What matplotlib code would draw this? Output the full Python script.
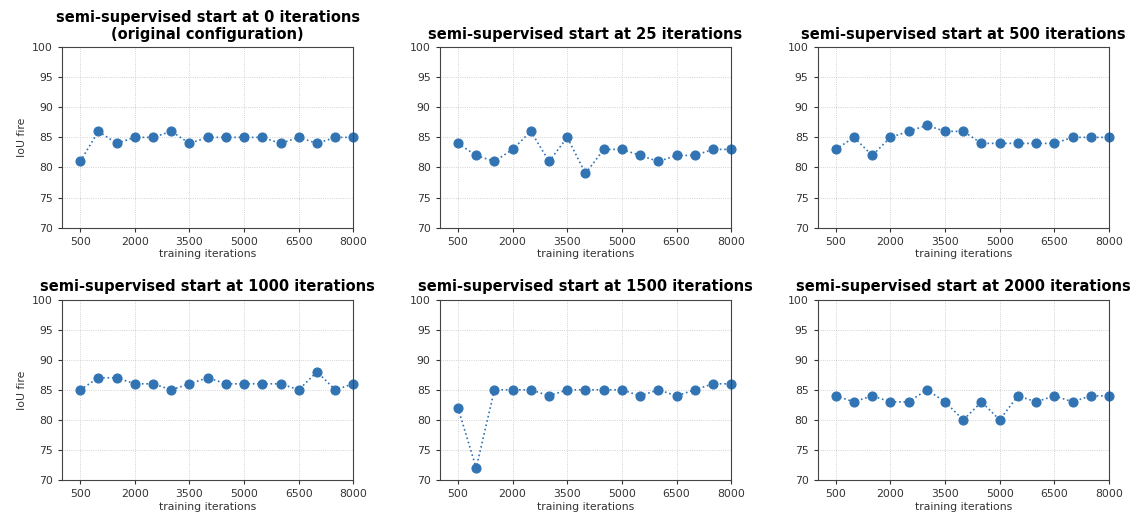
import matplotlib
matplotlib.use("Agg")
import matplotlib.pyplot as plt

iterations = list(range(500, 8001, 500))

titles = [
    "semi-supervised start at 0 iterations\n(original configuration)",
    "semi-supervised start at 25 iterations",
    "semi-supervised start at 500 iterations",
    "semi-supervised start at 1000 iterations",
    "semi-supervised start at 1500 iterations",
    "semi-supervised start at 2000 iterations",
]

iou_start_0    = [81, 86, 84, 85, 85, 86, 84, 85, 85, 85, 85, 84, 85, 84, 85, 85]
iou_start_25   = [84, 82, 81, 83, 86, 81, 85, 79, 83, 83, 82, 81, 82, 82, 83, 83]
iou_start_500  = [83, 85, 82, 85, 86, 87, 86, 86, 84, 84, 84, 84, 84, 85, 85, 85]
iou_start_1000 = [85, 87, 87, 86, 86, 85, 86, 87, 86, 86, 86, 86, 85, 88, 85, 86]
iou_start_1500 = [82, 72, 85, 85, 85, 84, 85, 85, 85, 85, 84, 85, 84, 85, 86, 86]
iou_start_2000 = [84, 83, 84, 83, 83, 85, 83, 80, 83, 80, 84, 83, 84, 83, 84, 84]

series = [iou_start_0, iou_start_25, iou_start_500,
          iou_start_1000, iou_start_1500, iou_start_2000]

x_ticks = list(range(500, 8001, 1500))
y_ticks = list(range(70, 101, 5))

fig, axes = plt.subplots(2, 3, figsize=(11.37, 5.23), dpi=100)
fig.subplots_adjust(left=0.0545, right=0.9754, top=0.910, bottom=0.082,
                    wspace=0.296, hspace=0.398)

for i, ax in enumerate(axes.flat):
    ax.plot(iterations, series[i], linestyle=":", marker="o",
            color="#3274b3", markersize=6.3, linewidth=1.2, clip_on=False)
    ax.set_xlim(0, 8000)
    ax.set_ylim(70, 100)
    ax.set_xticks(x_ticks)
    ax.set_yticks(y_ticks)
    ax.tick_params(labelsize=7.8, colors="#333333", length=3)
    ax.grid(True, linestyle=":", linewidth=0.6, color="#c4c4c4")
    ax.set_axisbelow(True)
    for s in ax.spines.values():
        s.set_color("#444444")
    ax.set_title(titles[i], fontsize=10.5, fontweight="bold", pad=6,
                 linespacing=1.15)
    ax.set_xlabel("training iterations", fontsize=7.8, color="#333333",
                  labelpad=2)
    if i % 3 == 0:
        ax.set_ylabel("IoU fire", fontsize=7.8, color="#333333")

fig.savefig("out.png", dpi=100)
